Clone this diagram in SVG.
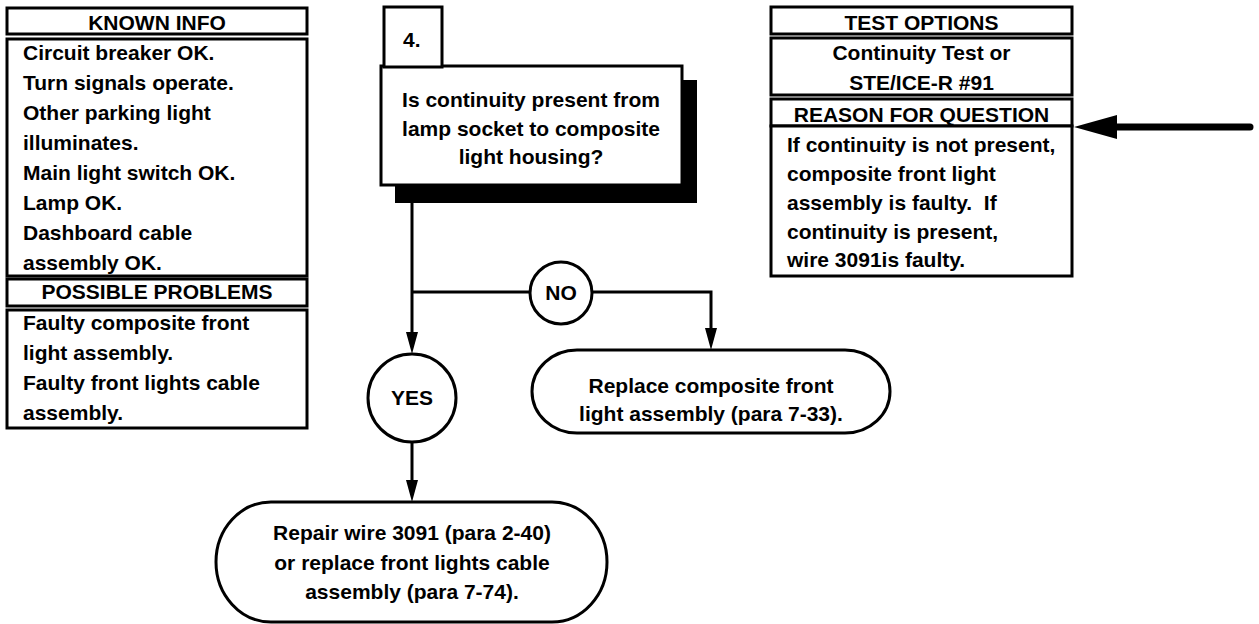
<svg xmlns="http://www.w3.org/2000/svg" width="1259" height="624" viewBox="0 0 1259 624">
<style>
.box{fill:#fff;stroke:#000;stroke-width:3}
.t{font-family:"Liberation Sans",Arial,sans-serif;font-weight:bold;font-size:21px;fill:#000}
.c{text-anchor:middle}
.ln{fill:none;stroke:#000;stroke-width:3}
</style>
<defs>
<marker id="ah" viewBox="0 0 22 12" refX="0" refY="6" markerWidth="22" markerHeight="12" markerUnits="userSpaceOnUse" orient="auto">
<path d="M0,0 L22,6 L0,12 z" fill="#000"/>
</marker>
</defs>
<rect width="1259" height="624" fill="#fff"/>

<g id="known-info">
<rect class="box" x="7" y="8" width="300" height="26"/>
<text class="t c" x="157" y="30">KNOWN INFO</text>
<rect class="box" x="7" y="39" width="300" height="237"/>
<text class="t" x="23" y="60">Circuit breaker OK.</text>
<text class="t" x="23" y="90">Turn signals operate.</text>
<text class="t" x="23" y="120">Other parking light</text>
<text class="t" x="23" y="150">illuminates.</text>
<text class="t" x="23" y="180">Main light switch OK.</text>
<text class="t" x="23" y="210">Lamp OK.</text>
<text class="t" x="23" y="240">Dashboard cable</text>
<text class="t" x="23" y="270">assembly OK.</text>
</g>

<g id="possible-problems">
<rect class="box" x="7" y="279" width="300" height="27"/>
<text class="t c" x="157" y="299">POSSIBLE PROBLEMS</text>
<rect class="box" x="7" y="310" width="300" height="118"/>
<text class="t" x="23" y="330">Faulty composite front</text>
<text class="t" x="23" y="360">light assembly.</text>
<text class="t" x="23" y="390">Faulty front lights cable</text>
<text class="t" x="23" y="420">assembly.</text>
</g>

<g id="step4">
<rect x="395" y="80" width="302" height="123" fill="#000"/>
<rect class="box" x="381" y="66" width="301" height="119"/>
<rect class="box" x="384" y="7" width="58" height="60"/>
<text class="t" x="403" y="47">4.</text>
<text class="t c" x="531" y="107">Is continuity present from</text>
<text class="t c" x="531" y="136">lamp socket to composite</text>
<text class="t c" x="531" y="164">light housing?</text>
</g>

<g id="test-options">
<rect class="box" x="771" y="7" width="301" height="27"/>
<text class="t c" x="921.5" y="30">TEST OPTIONS</text>
<rect class="box" x="771" y="38" width="301" height="57"/>
<text class="t c" x="921.5" y="60">Continuity Test or</text>
<text class="t c" x="921.5" y="90">STE/ICE-R #91</text>
</g>

<g id="reason">
<rect class="box" x="771" y="99" width="301" height="27"/>
<text class="t c" x="921.5" y="122">REASON FOR QUESTION</text>
<rect class="box" x="771" y="126" width="301" height="150"/>
<text class="t" x="787" y="152">If continuity is not present,</text>
<text class="t" x="787" y="181">composite front light</text>
<text class="t" x="787" y="210">assembly is faulty.&#160; If</text>
<text class="t" x="787" y="239">continuity is present,</text>
<text class="t" x="787" y="267">wire 3091is faulty.</text>
</g>

<g id="no">
<circle class="box" cx="561" cy="293" r="31"/>
<text class="t c" x="561" y="300">NO</text>
</g>

<g id="yes">
<circle class="box" cx="412" cy="398" r="44"/>
<text class="t c" x="412" y="405">YES</text>
</g>

<g id="replace-composite">
<rect class="box" x="532" y="350" width="358" height="83" rx="45" ry="41.5"/>
<text class="t c" x="711" y="393">Replace composite front</text>
<text class="t c" x="711" y="421">light assembly (para 7-33).</text>
</g>

<g id="repair-wire">
<rect class="box" x="216" y="502" width="391" height="120" rx="55" ry="60"/>
<text class="t c" x="412" y="540">Repair wire 3091 (para 2-40)</text>
<text class="t c" x="412" y="570">or replace front lights cable</text>
<text class="t c" x="412" y="599">assembly (para 7-74).</text>
</g>

<g id="connectors">
<path class="ln" d="M412,203 V332" marker-end="url(#ah)"/>
<path class="ln" d="M412,292 H530"/>
<path class="ln" d="M592,292 H711 V328" marker-end="url(#ah)"/>
<path class="ln" d="M412,442 V480" marker-end="url(#ah)"/>
<path d="M1250,127 H1115" fill="none" stroke="#000" stroke-width="7" stroke-linecap="round"/>
<polygon points="1074,127 1117,115 1117,139" fill="#000"/>
</g>
</svg>
